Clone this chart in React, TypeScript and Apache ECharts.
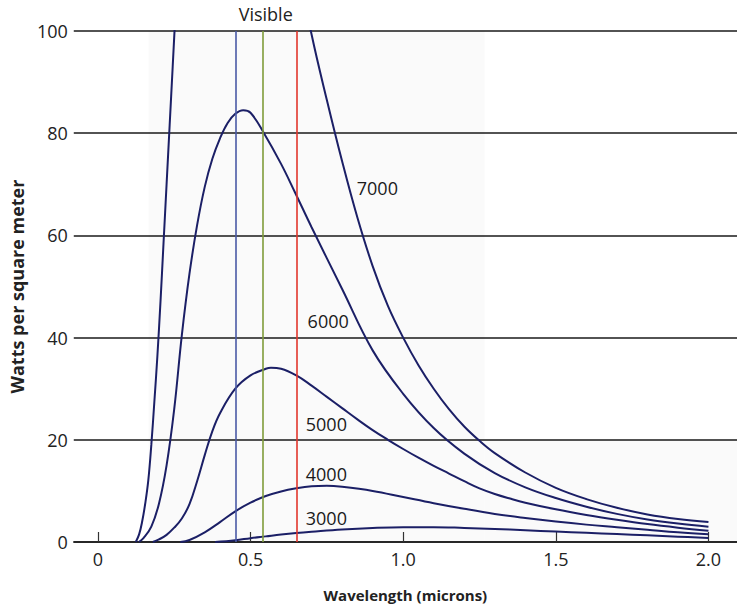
import { useEffect, useRef } from "react";
import * as echarts from "echarts";

// Wavelength (microns) vs. watts per square meter
const t7000: [number, number][] = [
  [0.124, 0], [0.135, 1.5], [0.145, 4], [0.155, 7.5], [0.165, 12], [0.175, 19], [0.185, 27.5],
  [0.195, 36.5], [0.205, 47], [0.215, 58.5], [0.225, 70], [0.235, 81.5], [0.245, 93],
  [0.255, 104.5], [0.265, 115], [0.28, 130], [0.3, 144], [0.33, 156], [0.36, 162], [0.4, 164],
  [0.45, 161], [0.5, 153], [0.55, 142], [0.6, 129], [0.65, 114.5], [0.7, 99.3], [0.75, 86.5],
  [0.8, 74.5], [0.85, 63.5], [0.9, 54], [0.95, 46.2], [1.0, 40], [1.05, 34.6], [1.1, 30],
  [1.15, 26], [1.2, 22.6], [1.25, 19.8], [1.3, 17.4], [1.4, 13.6], [1.5, 10.6], [1.6, 8.4],
  [1.7, 6.7], [1.8, 5.4], [1.9, 4.5], [2.0, 3.9],
];
const t6000: [number, number][] = [
  [0.134, 0], [0.15, 0.8], [0.175, 3], [0.2, 7.5], [0.225, 15], [0.25, 26], [0.275, 40.5],
  [0.3, 52.5], [0.325, 62], [0.35, 69.5], [0.375, 75], [0.4, 79], [0.425, 82], [0.45, 83.8],
  [0.476, 84.5], [0.5, 84], [0.544, 80], [0.6, 74], [0.645, 68.5], [0.7, 61.6], [0.8, 49.5],
  [0.9, 37.5], [1.0, 29], [1.1, 22.3], [1.2, 17.3], [1.3, 13.5], [1.4, 10.7], [1.5, 8.6],
  [1.6, 6.9], [1.7, 5.5], [1.8, 4.4], [1.9, 3.6], [2.0, 3.0],
];
const t5000: [number, number][] = [
  [0.18, 0], [0.2, 0.5], [0.225, 1.4], [0.25, 2.8], [0.275, 4.6], [0.3, 7.4], [0.325, 11.9],
  [0.35, 17.0], [0.375, 21.7], [0.4, 25.2], [0.45, 30.0], [0.5, 32.6], [0.55, 33.9],
  [0.567, 34.1], [0.6, 33.9], [0.65, 32.6], [0.7, 30.6], [0.75, 28.4],
  [0.8, 26.2], [0.85, 24.0], [0.9, 21.9], [0.95, 20.0], [1.0, 18.2], [1.05, 16.5], [1.1, 14.9],
  [1.15, 13.4], [1.2, 11.9], [1.25, 10.5], [1.3, 9.4], [1.35, 8.5], [1.4, 7.7], [1.5, 6.4],
  [1.6, 5.3], [1.7, 4.35], [1.8, 3.5], [1.9, 2.8], [2.0, 2.2],
];
const t4000: [number, number][] = [
  [0.27, 0], [0.3, 0.4], [0.35, 1.9], [0.4, 3.9], [0.45, 6.0], [0.5, 7.7], [0.55, 9.0],
  [0.6, 9.9], [0.65, 10.5], [0.7, 10.9], [0.75, 11.0], [0.8, 10.8], [0.9, 10.0], [1.0, 8.8],
  [1.1, 7.6], [1.2, 6.5], [1.3, 5.5], [1.4, 4.7], [1.5, 4.0], [1.6, 3.4], [1.7, 2.9],
  [1.8, 2.4], [1.9, 1.9], [2.0, 1.5],
];
const t3000: [number, number][] = [
  [0.384, 0], [0.45, 0.35], [0.5, 0.75], [0.55, 1.1], [0.6, 1.45], [0.65, 1.75], [0.7, 2.0],
  [0.8, 2.45], [0.9, 2.75], [1.0, 2.9], [1.1, 2.9], [1.2, 2.75], [1.3, 2.55], [1.4, 2.3],
  [1.5, 2.05], [1.6, 1.8], [1.7, 1.55], [1.8, 1.3], [1.9, 1.05], [2.0, 0.8],
];

const curveNames = ["7000", "6000", "5000", "4000", "3000"];
const curveData = [t7000, t6000, t5000, t4000, t3000];
// label anchors (data coordinates) for the temperature labels
const labelAnchors: [number, number][] = [
  [0.848, 69.3], [0.687, 43.2], [0.681, 23.1], [0.681, 13.3], [0.681, 4.7],
];

const visibleLines = [0.45, 0.544, 0.645];
const visibleColors = ["#4a5aa6", "#7f9c3a", "#e2362c"];
const visibleLabel = "Visible";

const xTickValues = [0, 0.5, 1.0, 1.5, 2.0];
const yMin = 0;
const yMax = 100;
const yInterval = 20;

const FONT = "Open Sans";
const CURVE = "#1b1f66";

export default function App() {
  const ref = useRef<HTMLDivElement>(null);

  useEffect(() => {
    if (!ref.current) return;
    const chart = echarts.init(ref.current, null, { renderer: "svg" });

    const curveSeries = curveData.map((d, i) => ({
      type: "line",
      name: curveNames[i],
      data: d,
      smooth: 0.4,
      showSymbol: false,
      clip: true,
      z: 4,
      lineStyle: { color: CURVE, width: 2 },
    }));

    chart.setOption({
      animation: false,
      backgroundColor: "#ffffff",
      textStyle: { fontFamily: FONT },
      grid: { left: 70, right: 0, top: 31, bottom: 67, containLabel: false },
      xAxis: {
        type: "value",
        min: -0.079,
        max: 2.0935,
        axisLine: { show: true, onZero: false, lineStyle: { color: "#1a1a1a", width: 1.6 } },
        axisTick: {
          show: true,
          inside: true,
          length: 10,
          customValues: xTickValues,
          lineStyle: { color: "#333", width: 1.2 },
        },
        axisLabel: {
          customValues: xTickValues,
          formatter: (v: number) => (v === 0 ? "0" : v.toFixed(1)),
          fontSize: 18,
          color: "#222",
          margin: 8,
          fontFamily: FONT,
        },
        splitLine: { show: false },
        name: "Wavelength (microns)",
        nameLocation: "middle",
        nameGap: 45,
        nameTextStyle: { fontWeight: "bold", fontSize: 15, color: "#222", fontFamily: FONT },
      },
      yAxis: {
        type: "value",
        min: yMin,
        max: yMax,
        interval: yInterval,
        axisLine: { show: false },
        axisTick: { show: false },
        axisLabel: { fontSize: 18, color: "#222", margin: 6, fontFamily: FONT },
        splitLine: { show: true, lineStyle: { color: "#1a1a1a", width: 1.6 } },
        name: "Watts per square meter",
        nameLocation: "middle",
        nameRotate: 90,
        nameGap: 47,
        nameTextStyle: { fontWeight: "bold", fontSize: 18, color: "#222", fontFamily: FONT },
      },
      series: [
        {
          type: "line",
          data: [],
          z: 3,
          markArea: {
            silent: true,
            itemStyle: { color: "rgba(0,0,0,0.018)" },
            data: [
              [{ xAxis: 0.166, yAxis: 0 }, { xAxis: 1.267, yAxis: 100 }],
              [{ xAxis: 1.267, yAxis: 0 }, { xAxis: 2.0935, yAxis: 20 }],
            ],
          },
          markLine: {
            silent: true,
            symbol: "none",
            data: visibleLines.map((x, i) => ({
              xAxis: x,
              lineStyle: { color: visibleColors[i], width: 1.6, type: "solid" },
              label:
                i === 1
                  ? {
                      show: true,
                      position: "end",
                      formatter: visibleLabel,
                      fontSize: 18,
                      color: "#222",
                      fontFamily: FONT,
                      distance: 8,
                      offset: [3, 0],
                    }
                  : { show: false },
            })),
          },
        },
        ...curveSeries,
        {
          type: "scatter",
          symbolSize: 0,
          z: 5,
          itemStyle: { opacity: 1 },
          data: labelAnchors.map((p, i) => ({ value: p, name: curveNames[i] })),
          label: {
            show: true,
            position: "right",
            distance: 0,
            formatter: (p: any) => p.name,
            fontSize: 18,
            color: "#1a1a1a",
            fontFamily: FONT,
          },
        },
      ],
    });

    return () => chart.dispose();
  }, []);

  return (
    <div
      ref={ref}
      style={{ position: "absolute", left: 0, top: 0, width: 737, height: 609 }}
    />
  );
}
